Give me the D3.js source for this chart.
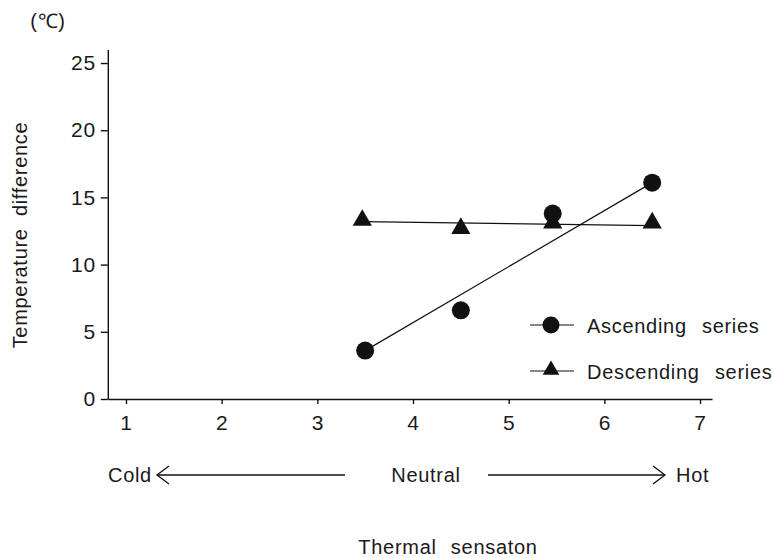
<!DOCTYPE html>
<html>
<head>
<meta charset="utf-8">
<script src="https://cdn.jsdelivr.net/npm/d3@7"></script>
<style>
  body { margin: 0; background: #fff; }
  text { font-family: "Liberation Sans", Arial, sans-serif; fill: #1a1a1a; letter-spacing: 0.7px; }
</style>
</head>
<body>
<div id="chart"></div>
<script>
const width = 772;
const height = 558;

// data
const xTicks = [1, 2, 3, 4, 5, 6, 7];
const yTicks = [0, 5, 10, 15, 20, 25];
const ascX = [3.5, 4.5, 5.46, 6.5];
const ascY = [3.6, 6.6, 13.8, 16.1];
const descX = [3.47, 4.5, 5.46, 6.5];
const descY = [13.3, 12.7, 13.1, 13.1];
// fitted lines (end points)
const ascFitX = [3.5, 6.5];
const ascFitY = [3.6, 16.1];
const descFitX = [3.47, 6.5];
const descFitY = [13.2, 12.9];
const seriesNames = ["Ascending series", "Descending series"];

const fs = 20;

const svg = d3.select("#chart")
    .append("svg")
    .attr("width", width)
    .attr("height", height);

const x = d3.scaleLinear().domain([0.81, 7.125]).range([107.8, 712]);
const y = d3.scaleLinear().domain([0, 26]).range([399, 49.6]);

// axes
const yAxis = svg.append("g")
    .attr("transform", `translate(${x(0.81)},0)`)
    .call(d3.axisLeft(y).tickValues(yTicks).tickFormat(d3.format("d"))
        .tickSize(7).tickSizeOuter(0).tickPadding(5));
yAxis.selectAll("text").attr("font-size", 21).style("font-family", "Liberation Sans, Arial, sans-serif");

const xAxis = svg.append("g")
    .attr("transform", `translate(0,${y(0)})`)
    .call(d3.axisBottom(x).tickValues(xTicks).tickFormat(d3.format("d"))
        .tickSize(5).tickSizeOuter(0).tickPadding(11));
xAxis.selectAll("text").attr("font-size", 21).style("font-family", "Liberation Sans, Arial, sans-serif");

svg.selectAll(".domain, .tick line").attr("stroke", "#111").attr("stroke-width", 1.4);

// units
svg.append("text").attr("x", 48).attr("y", 28).attr("text-anchor", "middle")
    .attr("font-size", fs).text("(℃)");

// y label
svg.append("text")
    .attr("transform", "translate(27,235) rotate(-90)")
    .attr("text-anchor", "middle")
    .attr("font-size", fs)
    .attr("letter-spacing", 0.3)
    .attr("word-spacing", 6)
    .text("Temperature difference");

// fit lines
const line = d3.line().x(d => x(d[0])).y(d => y(d[1]));
svg.append("path")
    .attr("d", line(d3.zip(ascFitX, ascFitY)))
    .attr("fill", "none").attr("stroke", "#111").attr("stroke-width", 1.2);
svg.append("path")
    .attr("d", line(d3.zip(descFitX, descFitY)))
    .attr("fill", "none").attr("stroke", "#111").attr("stroke-width", 1.2);

const tri = d3.symbol().type(d3.symbolTriangle).size(160);

svg.selectAll(".desc")
    .data(d3.zip(descX, descY))
    .enter().append("path")
    .attr("class", "desc")
    .attr("d", tri)
    .attr("transform", d => `translate(${x(d[0])},${y(d[1])})`)
    .attr("fill", "#111");

svg.selectAll(".asc")
    .data(d3.zip(ascX, ascY))
    .enter().append("circle")
    .attr("class", "asc")
    .attr("cx", d => x(d[0]))
    .attr("cy", d => y(d[1]))
    .attr("r", 9)
    .attr("fill", "#111");

// legend
const legend = svg.append("g");
[325, 371].forEach((ly, i) => {
    legend.append("line")
        .attr("x1", 530).attr("x2", 574).attr("y1", ly).attr("y2", ly)
        .attr("stroke", "#111").attr("stroke-width", 1.2);
    if (i === 0) {
        legend.append("circle").attr("cx", 551).attr("cy", ly).attr("r", 8.5).attr("fill", "#111");
    } else {
        legend.append("path").attr("d", d3.symbol().type(d3.symbolTriangle).size(120))
            .attr("transform", `translate(551,${ly - 1})`).attr("fill", "#111");
    }
    legend.append("text")
        .attr("x", 587).attr("y", ly + 8)
        .attr("font-size", fs)
        .attr("word-spacing", 9)
        .text(seriesNames[i]);
});

// thermal scale captions
svg.append("text").attr("x", 108).attr("y", 482).attr("font-size", fs).text("Cold");
svg.append("text").attr("x", 426).attr("y", 482).attr("text-anchor", "middle").attr("font-size", fs).text("Neutral");
svg.append("text").attr("x", 676).attr("y", 482).attr("font-size", fs).text("Hot");

const arrows = svg.append("g").attr("fill", "none").attr("stroke", "#111").attr("stroke-width", 1.3);
arrows.append("line").attr("x1", 157).attr("x2", 345).attr("y1", 475).attr("y2", 475);
arrows.append("path").attr("d", "M169,466 L157,475 L169,484");
arrows.append("line").attr("x1", 488).attr("x2", 665).attr("y1", 475).attr("y2", 475);
arrows.append("path").attr("d", "M653,466 L665,475 L653,484");

svg.append("text")
    .attr("x", 448).attr("y", 554)
    .attr("text-anchor", "middle")
    .attr("font-size", fs)
    .attr("word-spacing", 8)
    .text("Thermal sensaton");
</script>
</body>
</html>
